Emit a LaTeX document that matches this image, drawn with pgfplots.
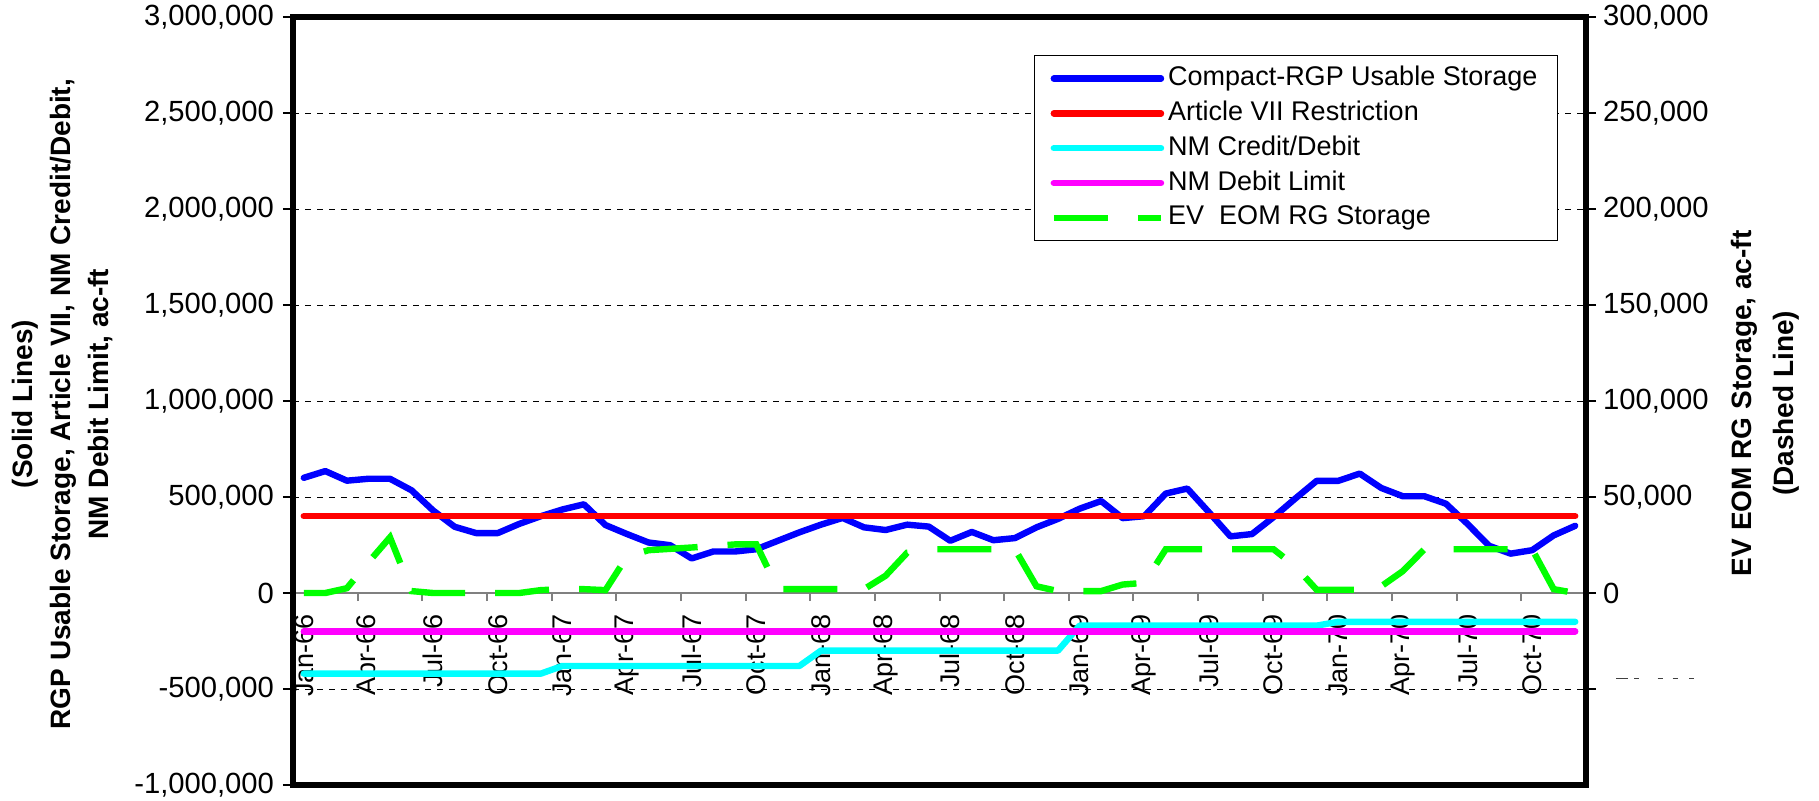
\documentclass[border=0pt]{standalone}
\usepackage{pgfplots}
\usepackage{pgfplotstable}
\pgfplotsset{compat=1.18}
\usepackage{fontspec}
\setmainfont{Liberation Sans}
\newcommand{\tickfont}{\fontsize{13.5}{16}\selectfont}
\newcommand{\ytickfont}{\fontsize{14.6}{17}\selectfont}
\newcommand{\labfont}{\bfseries\fontsize{14}{19}\selectfont}
\newcommand{\rlabfont}{\bfseries\fontsize{14}{21}\selectfont}
\definecolor{cBlue}{RGB}{0,0,255}
\definecolor{cRed}{RGB}{255,0,0}
\definecolor{cCyan}{RGB}{0,255,255}
\definecolor{cMag}{RGB}{255,0,255}
\definecolor{cGreen}{RGB}{0,255,0}
\definecolor{cGray}{RGB}{128,128,128}
\newcommand{\oddlabel}{\hspace*{6.5pt}\smash{\textcolor{darkgray}{\rule[5pt]{5.8pt}{0.7pt}\hspace{3.3pt}\rule[5pt]{2.5pt}{0.7pt}\hspace{9.2pt}\rule[5pt]{2.5pt}{0.7pt}\hspace{5pt}\rule[5pt]{2.5pt}{0.7pt}\hspace{5.8pt}\rule[5pt]{2.5pt}{0.7pt}}}}

\pgfplotstableread{
i blue red cyan mag green
0 600000 400000 -420000 -200000 0
1 635000 400000 -420000 -200000 0
2 585000 400000 -420000 -200000 2500
3 595000 400000 -420000 -200000 16000
4 595000 400000 -420000 -200000 29000
5 535000 400000 -420000 -200000 1000
6 430000 400000 -420000 -200000 0
7 345000 400000 -420000 -200000 0
8 312000 400000 -420000 -200000 0
9 312000 400000 -420000 -200000 0
10 360000 400000 -420000 -200000 0
11 400000 400000 -420000 -200000 1500
12 435000 400000 -380000 -200000 2000
13 462000 400000 -380000 -200000 2000
14 354000 400000 -380000 -200000 1500
15 307000 400000 -380000 -200000 19000
16 263000 400000 -380000 -200000 22300
17 249000 400000 -380000 -200000 23000
18 180000 400000 -380000 -200000 23700
19 216000 400000 -380000 -200000 24500
20 216000 400000 -380000 -200000 25300
21 228000 400000 -380000 -200000 25300
22 272000 400000 -380000 -200000 2000
23 316000 400000 -380000 -200000 2000
24 356000 400000 -300000 -200000 2000
25 391000 400000 -300000 -200000 2000
26 342000 400000 -300000 -200000 2000
27 328000 400000 -300000 -200000 9000
28 356000 400000 -300000 -200000 21000
29 346000 400000 -300000 -200000 22800
30 272000 400000 -300000 -200000 22800
31 318000 400000 -300000 -200000 22800
32 275000 400000 -300000 -200000 22800
33 286000 400000 -300000 -200000 22800
34 342000 400000 -300000 -200000 3500
35 386000 400000 -300000 -200000 1000
36 439000 400000 -170000 -200000 1000
37 479000 400000 -170000 -200000 1000
38 390000 400000 -170000 -200000 4400
39 400000 400000 -170000 -200000 5300
40 518000 400000 -170000 -200000 22800
41 544000 400000 -170000 -200000 22800
42 421000 400000 -170000 -200000 22800
43 295000 400000 -170000 -200000 22800
44 307000 400000 -170000 -200000 22800
45 395000 400000 -170000 -200000 22800
46 491000 400000 -170000 -200000 14000
47 584000 400000 -170000 -200000 1700
48 584000 400000 -150000 -200000 1700
49 622000 400000 -150000 -200000 1700
50 547000 400000 -150000 -200000 3500
51 504000 400000 -150000 -200000 11400
52 504000 400000 -150000 -200000 22800
53 465000 400000 -150000 -200000 22800
54 360000 400000 -150000 -200000 22800
55 246000 400000 -150000 -200000 22800
56 205000 400000 -150000 -200000 22800
57 223000 400000 -150000 -200000 22800
58 300000 400000 -150000 -200000 2000
59 350000 400000 -150000 -200000 0
}\data

\begin{document}
\begin{tikzpicture}
\useasboundingbox (-146.5pt,-7.5pt) rectangle (763pt,392.5pt);
\pgfplotsset{base/.style={width=646.5pt,height=384pt,scale only axis,
  xmin=-0.5,xmax=59.5,ymin=-1000000,ymax=3000000,at={(0,0)},anchor=south west}}

% grid
\begin{axis}[base, axis line style={draw=none}, xtick=\empty,
  ytick={-500000,500000,1000000,1500000,2000000,2500000}, yticklabels={},
  major tick length=0pt, ymajorgrids,
  major grid style={black, line width=0.5pt, dash pattern=on 3pt off 3pt}]
\end{axis}

% x axis at zero
\begin{axis}[base, axis x line=middle, axis y line=none,
  hide obscured x ticks=false,
  x axis line style={-, line width=1pt, color=cGray},
  xtick={0,3,...,57},
  xticklabels={Jan-66,Apr-66,Jul-66,Oct-66,Jan-67,Apr-67,Jul-67,Oct-67,Jan-68,Apr-68,Jul-68,Oct-68,Jan-69,Apr-69,Jul-69,Oct-69,Jan-70,Apr-70,Jul-70,Oct-70},
  major tick length=0pt,
  minor xtick={2.5,5.5,...,56.5}, minor tick length=4pt, tick align=outside,
  minor tick style={cGray, line width=1pt},
  xticklabel style={rotate=90, anchor=east, font=\tickfont},
  xticklabel shift=7pt]
\end{axis}

% main left axis
\begin{axis}[base, axis line style={line width=3pt, black},
  xtick=\empty,
  ytick={-1000000,-500000,0,500000,1000000,1500000,2000000,2500000,3000000},
  ytick pos=left, tick align=outside, major tick length=5pt,
  major tick style={black, line width=0.6pt},
  scaled y ticks=false,
  /pgf/number format/fixed, /pgf/number format/1000 sep={,},
  /pgf/number format/assume math mode=true,
  yticklabel style={font=\ytickfont, xshift=-1pt},
  ylabel={(Solid Lines)\\RGP Usable Storage, Article VII, NM Credit/Debit,\\NM Debit Limit, ac-ft},
  ylabel style={align=center, font=\labfont, at={(axis description cs:-0.1779,0.496)}, anchor=center}]
\addplot[cBlue, line width=3.2pt, line join=round, line cap=round] table[x=i,y=blue]{\data};
\addplot[cRed, line width=3.2pt, line join=round, line cap=round] table[x=i,y=red]{\data};
\addplot[cCyan, line width=3.2pt, line join=round, line cap=round] table[x=i,y=cyan]{\data};
\addplot[cMag, line width=3.2pt, line join=round, line cap=round] table[x=i,y=mag]{\data};
\end{axis}

% right axis
\begin{axis}[base, ymin=-100000, ymax=300000,
  axis y line*=right, axis x line=none, y axis line style={draw=none},
  ytick={0,50000,100000,150000,200000,250000,300000},
  tick align=outside, major tick length=5pt,
  major tick style={black, line width=0.6pt},
  scaled y ticks=false,
  /pgf/number format/fixed, /pgf/number format/1000 sep={,},
  /pgf/number format/assume math mode=true,
  yticklabel style={font=\ytickfont},
  extra y ticks={-50000}, extra y tick labels={\oddlabel},
  ylabel={EV EOM RG Storage, ac-ft\\(Dashed Line)},
  ylabel style={align=center, font=\rlabfont, at={(axis description cs:1.1388,0.497)}, anchor=center},
  legend style={at={(axis description cs:0.5731,0.9505)}, anchor=north west,
    draw=black, line width=0.6pt, fill=white, font=\tickfont,
    inner xsep=8pt, inner ysep=3pt, row sep=0.4pt,
    nodes={inner sep=2pt, text height=10pt, text depth=3pt}},
  legend cell align=left,
  legend image code/.code={\draw[#1] (0pt,0pt) -- (53.6pt,0pt);}]
\addlegendimage{cBlue, line width=3.2pt, line cap=round}
\addlegendentry{Compact-RGP Usable Storage}
\addlegendimage{cRed, line width=3.2pt, line cap=round}
\addlegendentry{Article VII Restriction}
\addlegendimage{cCyan, line width=3.2pt, line cap=round}
\addlegendentry{NM Credit/Debit}
\addlegendimage{cMag, line width=3.2pt, line cap=round}
\addlegendentry{NM Debit Limit}
\addplot[cGreen, line width=3.2pt, dash pattern=on 27pt off 15pt] table[x=i,y=green]{\data};
\addlegendentry{EV\ \ EOM RG Storage}
\end{axis}
\end{tikzpicture}
\end{document}
